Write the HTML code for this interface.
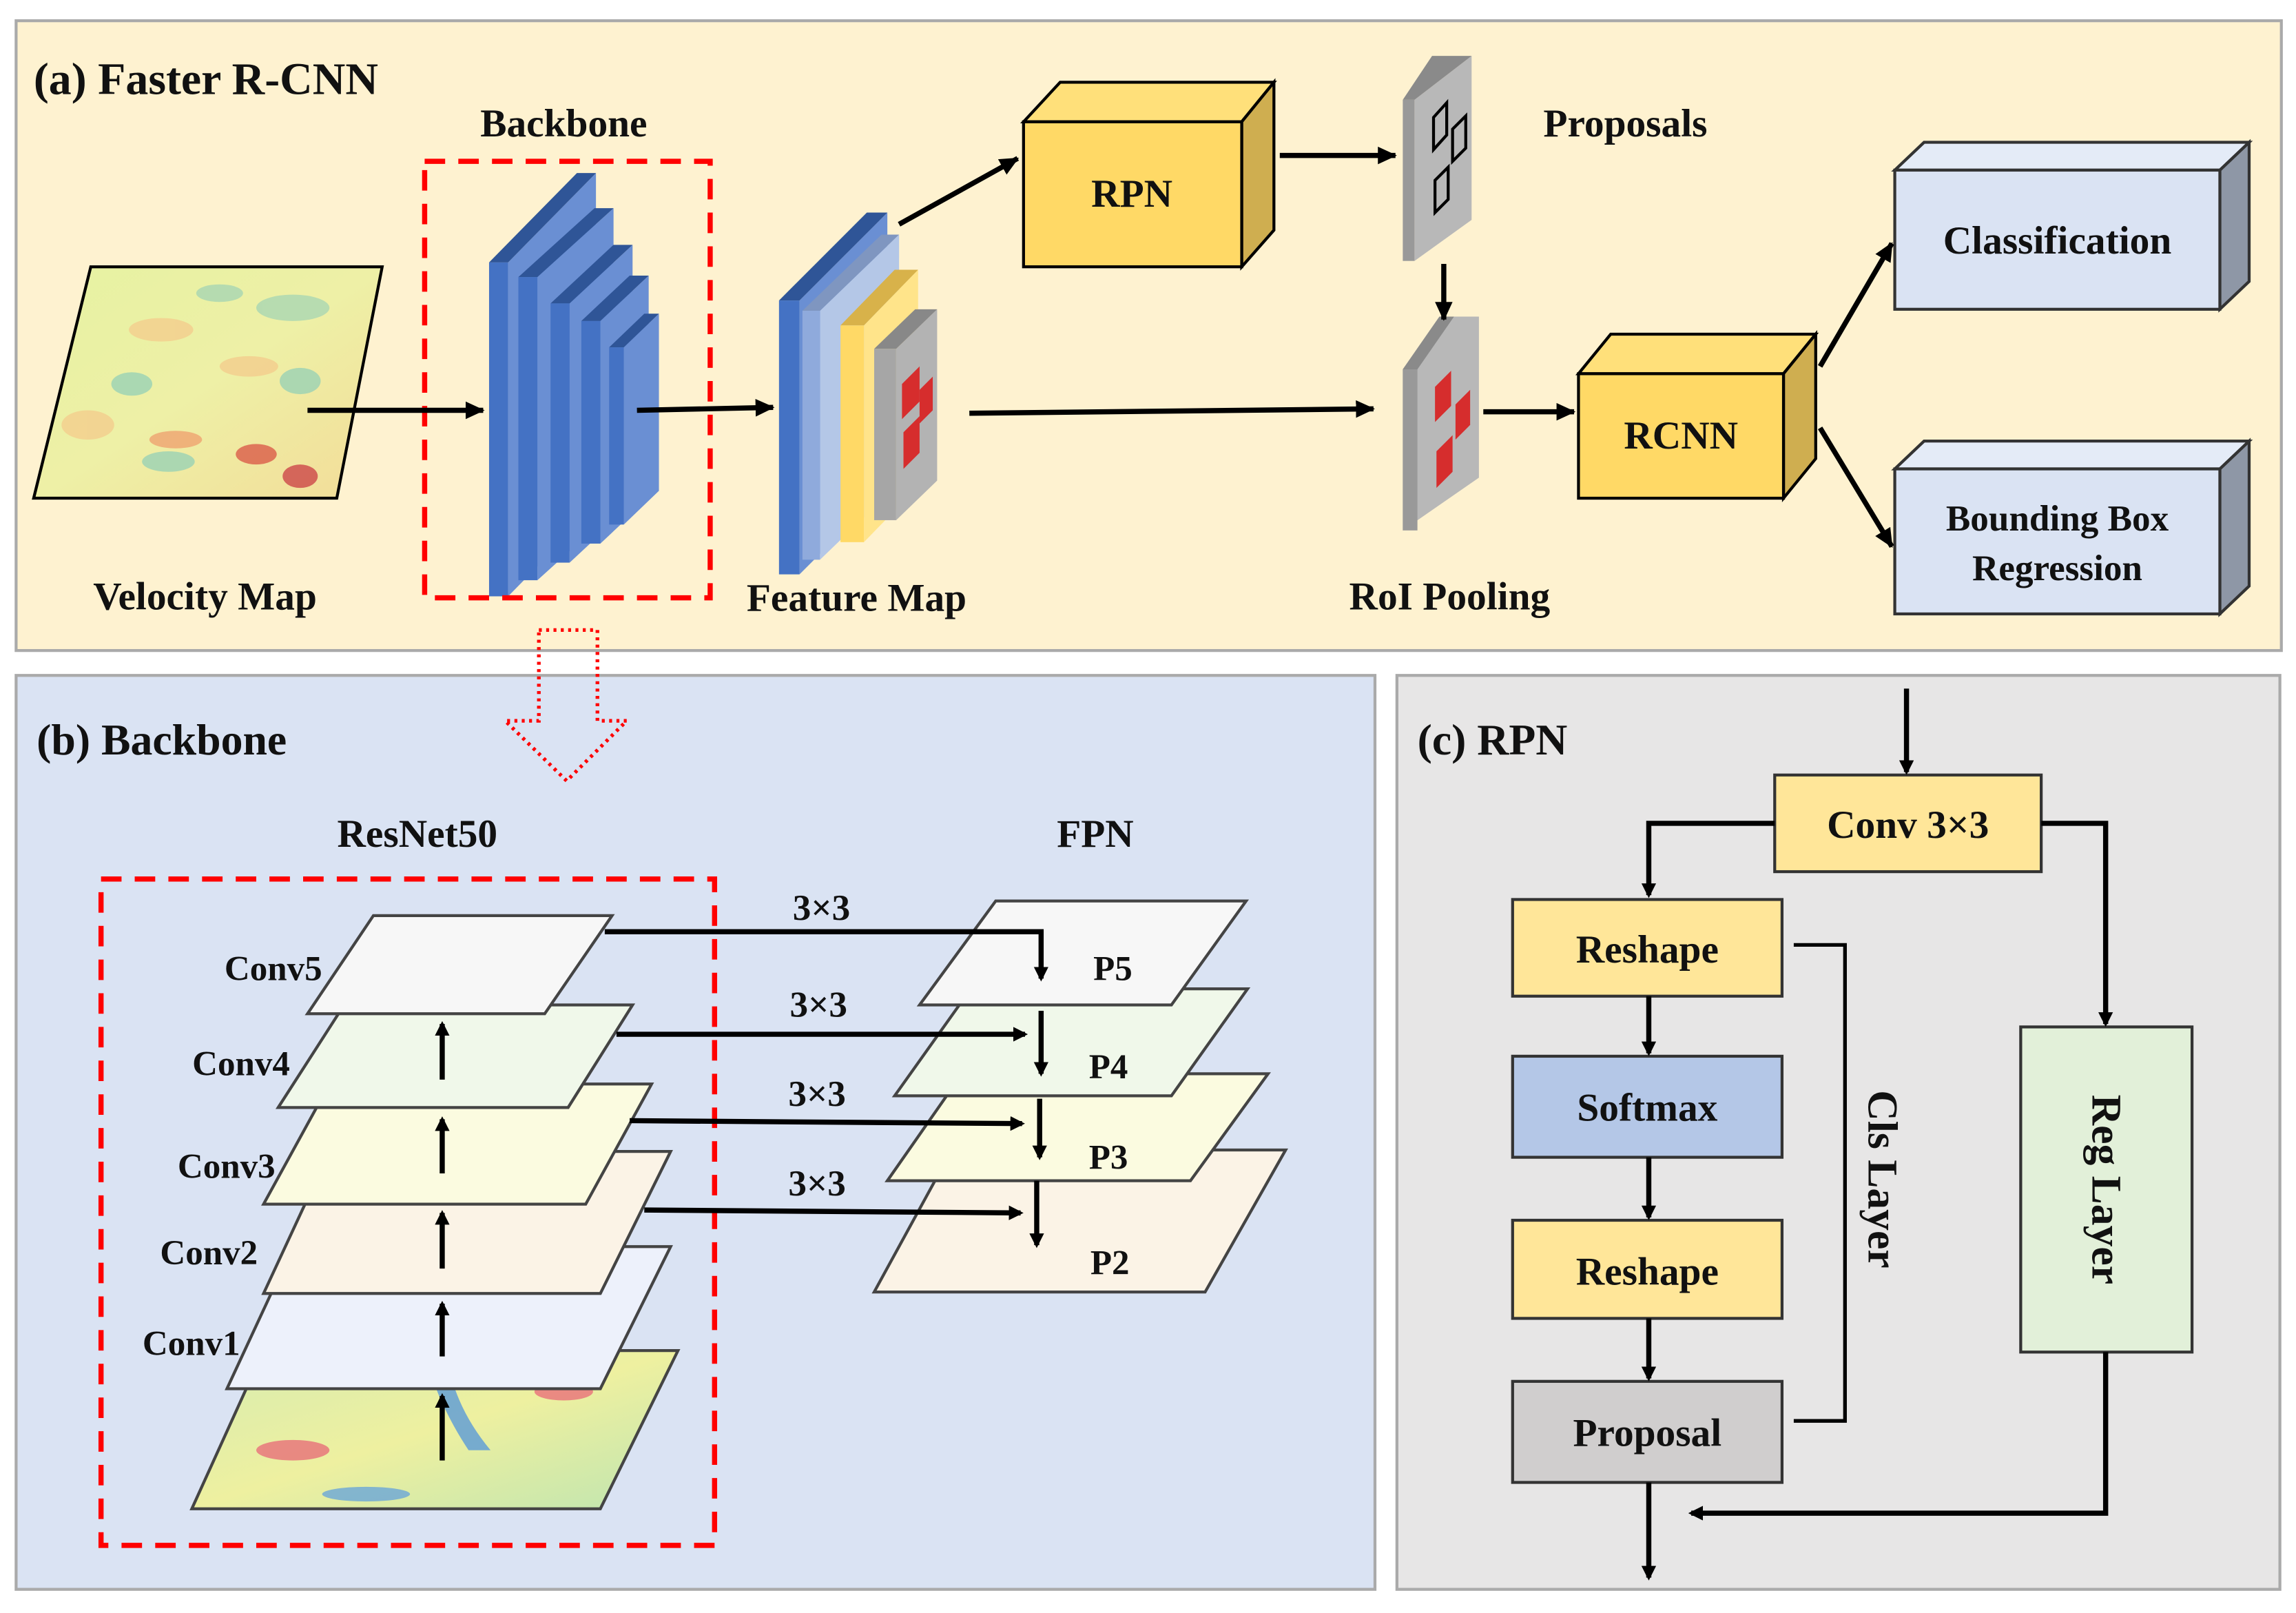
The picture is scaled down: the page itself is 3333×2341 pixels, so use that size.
<!DOCTYPE html>
<html><head><meta charset="utf-8"><style>
html,body{margin:0;padding:0;background:#fff}
svg{display:block}
text{font-family:"Liberation Serif",serif;font-weight:bold;fill:#111}
</style></head><body>
<svg width="3333" height="2341" viewBox="0 0 1568 1101" xmlns="http://www.w3.org/2000/svg">
<defs>
<marker id="ah" markerWidth="10" markerHeight="10" refX="8" refY="5" orient="auto" markerUnits="userSpaceOnUse"><path d="M0,0 L10,5 L0,10 z" fill="#000"/></marker>
<marker id="ahs" markerWidth="14" markerHeight="14" refX="12" refY="7" orient="auto" markerUnits="userSpaceOnUse"><path d="M0,1 L13,7 L0,13 z" fill="#000"/></marker>
<linearGradient id="vg" x1="0" y1="0" x2="1" y2="1"><stop offset="0" stop-color="#e6f2a2"/><stop offset="0.5" stop-color="#eef0a6"/><stop offset="1" stop-color="#f3dc98"/></linearGradient>
<linearGradient id="mg" x1="0" y1="0" x2="1" y2="1"><stop offset="0" stop-color="#d6ecb0"/><stop offset="0.5" stop-color="#eef0a0"/><stop offset="1" stop-color="#bfe5b0"/></linearGradient>
</defs>
<rect x="11" y="14" width="1547" height="430" fill="#FEF2D0" stroke="#aaa" stroke-width="2"/>
<rect x="11" y="461" width="928" height="624" fill="#DAE3F3" stroke="#aaa" stroke-width="2"/>
<rect x="954" y="461" width="603" height="624" fill="#E7E6E6" stroke="#aaa" stroke-width="2"/>

<text x="23" y="64" font-size="31">(a) Faster R-CNN</text>
<text x="385" y="93" font-size="27" text-anchor="middle">Backbone</text>
<text x="1110" y="93" font-size="27" text-anchor="middle">Proposals</text>
<text x="140" y="416" font-size="27" text-anchor="middle">Velocity Map</text>
<text x="585" y="417" font-size="27" text-anchor="middle">Feature Map</text>
<text x="990" y="416" font-size="27" text-anchor="middle">RoI Pooling</text>

<polygon points="62,182 261,182 230,340 23,340" fill="url(#vg)" stroke="#000" stroke-width="2"/>
<g opacity="0.7">
<ellipse cx="110" cy="225" rx="22" ry="8" fill="#f5c98a"/>
<ellipse cx="200" cy="210" rx="25" ry="9" fill="#9fd3b5"/>
<ellipse cx="90" cy="262" rx="14" ry="8" fill="#8fcfb8"/>
<ellipse cx="170" cy="250" rx="20" ry="7" fill="#f5c98a"/>
<ellipse cx="205" cy="260" rx="14" ry="9" fill="#8fcfb8"/>
<ellipse cx="120" cy="300" rx="18" ry="6" fill="#ef9a6a"/>
<ellipse cx="115" cy="315" rx="18" ry="7" fill="#8fcfb8"/>
<ellipse cx="175" cy="310" rx="14" ry="7" fill="#d84a3e"/>
<ellipse cx="205" cy="325" rx="12" ry="8" fill="#c8323e"/>
<ellipse cx="60" cy="290" rx="18" ry="10" fill="#f5c98a"/>
<ellipse cx="150" cy="200" rx="16" ry="6" fill="#9fd3b5"/>
</g>

<g stroke="none">
<g><polygon points="347,179 407,118 407,346 347,407" fill="#6A8FD3"/><polygon points="334,179 394,118 407,118 347,179" fill="#2F5597"/><rect x="334" y="179" width="13" height="228" fill="#4472C4"/></g>
<g><polygon points="367,189 419,142 419,349 367,396" fill="#6A8FD3"/><polygon points="354,189 406,142 419,142 367,189" fill="#2F5597"/><rect x="354" y="189" width="13" height="207" fill="#4472C4"/></g>
<g><polygon points="389,207 432,167 432,344 389,384" fill="#6A8FD3"/><polygon points="376,207 419,167 432,167 389,207" fill="#2F5597"/><rect x="376" y="207" width="13" height="177" fill="#4472C4"/></g>
<g><polygon points="410,219 443,188 443,340 410,371" fill="#6A8FD3"/><polygon points="397,219 430,188 443,188 410,219" fill="#2F5597"/><rect x="397" y="219" width="13" height="152" fill="#4472C4"/></g>
<g><polygon points="426,237 450,214 450,335 426,358" fill="#6A8FD3"/><polygon points="416,237 440,214 450,214 426,237" fill="#2F5597"/><rect x="416" y="237" width="10" height="121" fill="#4472C4"/></g>
</g>
<rect x="290" y="110" width="195" height="298" fill="none" stroke="#f00" stroke-width="3.5" stroke-dasharray="14,9"/>

<g>
<polygon points="546,205 606,145 606,332 546,392" fill="#6A8FD3"/><polygon points="532,205 592,145 606,145 546,205" fill="#2F5597"/><rect x="532" y="205" width="14" height="187" fill="#4472C4"/>
<polygon points="560,212 614,160 614,330 560,382" fill="#B4C7E7"/><polygon points="548,212 602,160 614,160 560,212" fill="#7F96C0"/><rect x="548" y="212" width="12" height="170" fill="#8FAADC"/>
<polygon points="590,222 627,184 627,332 590,370" fill="#FFE48A"/><polygon points="574,222 611,184 627,184 590,222" fill="#D8B24A"/><rect x="574" y="222" width="16" height="148" fill="#FFD966"/>
<polygon points="612,238 640,211 640,328 612,355" fill="#B3B3B3"/><polygon points="597,238 625,211 640,211 612,238" fill="#888"/><rect x="597" y="238" width="15" height="117" fill="#A6A6A6"/>
<polygon points="616,262 628,250 628,274 616,286" fill="#D62D2D"/><polygon points="628,266 637,257 637,280 628,289" fill="#D62D2D"/><polygon points="617,295 628,284 628,309 617,320" fill="#D62D2D"/>
</g>

<g stroke="#000" stroke-width="2">
<polygon points="699,83 724,56 870,56 848,83" fill="#FFE07A"/>
<polygon points="848,83 870,56 870,157 848,182" fill="#CFAE50"/>
<rect x="699" y="83" width="149" height="99" fill="#FFD966"/>
</g>
<text x="773" y="141" font-size="27" text-anchor="middle">RPN</text>

<g>
<polygon points="966,68 1005,38 1005,150 966,178" fill="#B8B8B8"/>
<polygon points="958,68 978,38 1005,38 966,68" fill="#8a8a8a"/>
<rect x="958" y="68" width="8" height="110" fill="#999"/>
<polygon points="979,80 988,70 988,92 979,102" fill="none" stroke="#000" stroke-width="2"/>
<polygon points="992,88 1001,79 1001,101 992,110" fill="none" stroke="#000" stroke-width="2"/>
<polygon points="980,123 989,114 989,136 980,145" fill="none" stroke="#000" stroke-width="2"/>
</g>
<g>
<polygon points="958,252 983,216 1010,216 1010,326 958,362" fill="#B8B8B8"/>
<polygon points="958,252 983,216 993,216 968,252" fill="#8a8a8a"/>
<rect x="958" y="252" width="10" height="110" fill="#999"/>
<polygon points="980,264 991,253 991,277 980,288" fill="#D62D2D"/>
<polygon points="994,276 1004,266 1004,290 994,300" fill="#D62D2D"/>
<polygon points="981,308 992,297 992,322 981,333" fill="#D62D2D"/>
</g>

<g stroke="#000" stroke-width="2">
<polygon points="1078,255 1100,228 1240,228 1218,255" fill="#FFE07A"/>
<polygon points="1218,255 1240,228 1240,313 1218,340" fill="#CFAE50"/>
<rect x="1078" y="255" width="140" height="85" fill="#FFD966"/>
</g>
<text x="1148" y="306" font-size="27" text-anchor="middle">RCNN</text>
<g stroke="#333" stroke-width="2">
<polygon points="1294,116 1314,97 1536,97 1516,116" fill="#E4EBF7"/>
<polygon points="1516,116 1536,97 1536,192 1516,211" fill="#8E97A6"/>
<rect x="1294" y="116" width="222" height="95" fill="#DAE3F3"/>
<polygon points="1294,320 1314,301 1536,301 1516,320" fill="#E4EBF7"/>
<polygon points="1516,320 1536,301 1536,400 1516,419" fill="#8E97A6"/>
<rect x="1294" y="320" width="222" height="99" fill="#DAE3F3"/>
</g>
<text x="1405" y="173" font-size="27" text-anchor="middle">Classification</text>
<text x="1405" y="362" font-size="25" text-anchor="middle">Bounding Box</text>
<text x="1405" y="396" font-size="25" text-anchor="middle">Regression</text>

<g stroke="#000" stroke-width="3.5" fill="none" marker-end="url(#ahs)">
<line x1="210" y1="280" x2="330" y2="280"/>
<line x1="435" y1="280" x2="528" y2="278"/>
<line x1="614" y1="153" x2="695" y2="108"/>
<line x1="874" y1="106" x2="953" y2="106"/>
<line x1="986" y1="180" x2="986" y2="218"/>
<line x1="662" y1="282" x2="938" y2="279"/>
<line x1="1013" y1="281" x2="1075" y2="281"/>
<line x1="1243" y1="250" x2="1292" y2="166"/>
<line x1="1243" y1="292" x2="1292" y2="373"/>
</g>

<path d="M368,430 L408,430 L408,492 L428,492 L387,533 L345,492 L368,492 Z" fill="none" stroke="#f00" stroke-width="2.5" stroke-dasharray="2,3"/>

<text x="25" y="515" font-size="30">(b) Backbone</text>
<text x="285" y="578" font-size="27" text-anchor="middle">ResNet50</text>
<text x="748" y="578" font-size="27" text-anchor="middle">FPN</text>
<g stroke="#444" stroke-width="2">
<polygon points="131,1030 180,922 463,922 410,1030" fill="url(#mg)"/>
</g>
<g opacity="0.8">
<ellipse cx="200" cy="990" rx="25" ry="7" fill="#e8707a"/>
<ellipse cx="385" cy="950" rx="20" ry="6" fill="#e8707a"/>
<path d="M290,925 Q300,960 320,990 L335,990 Q310,960 305,925 Z" fill="#5a9ad8"/>
<ellipse cx="250" cy="1020" rx="30" ry="5" fill="#6aa6d8"/>
</g>
<g stroke="#444" stroke-width="2">
<polygon points="155,948 200,851 458,851 410,948" fill="#EDF1FB"/>
<polygon points="180,883 225,786 458,786 410,883" fill="#FBF3E6"/>
<polygon points="180,822 225,740 445,740 400,822" fill="#FBFBE0"/>
<polygon points="190,756 235,686 432,686 388,756" fill="#F0F8EA"/>
<polygon points="210,692 255,625 418,625 372,692" fill="#F7F7F7"/>
</g>
<g stroke="#000" stroke-width="3.5" marker-end="url(#ah)">
<line x1="302" y1="997" x2="302" y2="953"/>
<line x1="302" y1="926" x2="302" y2="890"/>
<line x1="302" y1="866" x2="302" y2="828"/>
<line x1="302" y1="801" x2="302" y2="764"/>
<line x1="302" y1="737" x2="302" y2="699"/>
</g>
<text x="220" y="669" text-anchor="end" font-size="24">Conv5</text>
<text x="198" y="734" text-anchor="end" font-size="24">Conv4</text>
<text x="188" y="804" text-anchor="end" font-size="24">Conv3</text>
<text x="176" y="863" text-anchor="end" font-size="24">Conv2</text>
<text x="164" y="925" text-anchor="end" font-size="24">Conv1</text>
<rect x="69" y="600" width="419" height="455" fill="none" stroke="#f00" stroke-width="3.5" stroke-dasharray="14,9"/>

<g stroke="#444" stroke-width="2">
<polygon points="597,882 650,785 878,785 823,882" fill="#FBF3E6"/>
<polygon points="606,806 657,733 866,733 813,806" fill="#FBFBE0"/>
<polygon points="611,748 663,675 852,675 800,748" fill="#F0F8EA"/>
<polygon points="628,686 680,615 851,615 800,686" fill="#F7F7F7"/>
</g>
<text x="760" y="669" font-size="24" text-anchor="middle">P5</text>
<text x="757" y="736" font-size="24" text-anchor="middle">P4</text>
<text x="757" y="798" font-size="24" text-anchor="middle">P3</text>
<text x="758" y="870" font-size="24" text-anchor="middle">P2</text>
<g stroke="#000" stroke-width="3.5" fill="none" marker-end="url(#ah)">
<polyline points="413,636 711,636 711,668"/>
<line x1="421" y1="706" x2="700" y2="706"/>
<line x1="430" y1="765" x2="698" y2="767"/>
<line x1="440" y1="826" x2="697" y2="828"/>
<line x1="711" y1="690" x2="711" y2="733"/>
<line x1="710" y1="750" x2="710" y2="790"/>
<line x1="708" y1="806" x2="708" y2="850"/>
</g>
<text x="561" y="628" font-size="25" text-anchor="middle">3×3</text>
<text x="559" y="694" font-size="25" text-anchor="middle">3×3</text>
<text x="558" y="755" font-size="25" text-anchor="middle">3×3</text>
<text x="558" y="816" font-size="25" text-anchor="middle">3×3</text>

<text x="968" y="515" font-size="30">(c) RPN</text>
<g stroke="#333" stroke-width="2">
<rect x="1212" y="529" width="182" height="66" fill="#FFE699"/>
<rect x="1033" y="614" width="184" height="66" fill="#FFE699"/>
<rect x="1033" y="721" width="184" height="69" fill="#B4C7E7"/>
<rect x="1033" y="833" width="184" height="67" fill="#FFE699"/>
<rect x="1033" y="943" width="184" height="69" fill="#D0CECE"/>
<rect x="1380" y="701" width="117" height="222" fill="#E2F0D9"/>
</g>
<text x="1303" y="572" font-size="27" text-anchor="middle">Conv 3×3</text>
<text x="1125" y="657" font-size="27" text-anchor="middle">Reshape</text>
<text x="1125" y="765" font-size="27" text-anchor="middle">Softmax</text>
<text x="1125" y="877" font-size="27" text-anchor="middle">Reshape</text>
<text x="1125" y="987" font-size="27" text-anchor="middle">Proposal</text>
<text x="0" y="0" font-size="29" text-anchor="middle" transform="translate(1276,805) rotate(90)">Cls Layer</text>
<text x="0" y="0" font-size="29" text-anchor="middle" transform="translate(1429,812) rotate(90)">Reg Layer</text>
<polyline points="1225,645 1260,645 1260,970 1225,970" fill="none" stroke="#000" stroke-width="2.5"/>
<g stroke="#000" stroke-width="3.5" fill="none" marker-end="url(#ah)">
<line x1="1302" y1="470" x2="1302" y2="527"/>
<polyline points="1212,562 1126,562 1126,611"/>
<polyline points="1394,562 1438,562 1438,699"/>
<line x1="1126" y1="680" x2="1126" y2="719"/>
<line x1="1126" y1="790" x2="1126" y2="831"/>
<line x1="1126" y1="900" x2="1126" y2="941"/>
<line x1="1126" y1="1012" x2="1126" y2="1077"/>
<polyline points="1438,923 1438,1033 1155,1033"/>
</g>
</svg>
</body></html>
